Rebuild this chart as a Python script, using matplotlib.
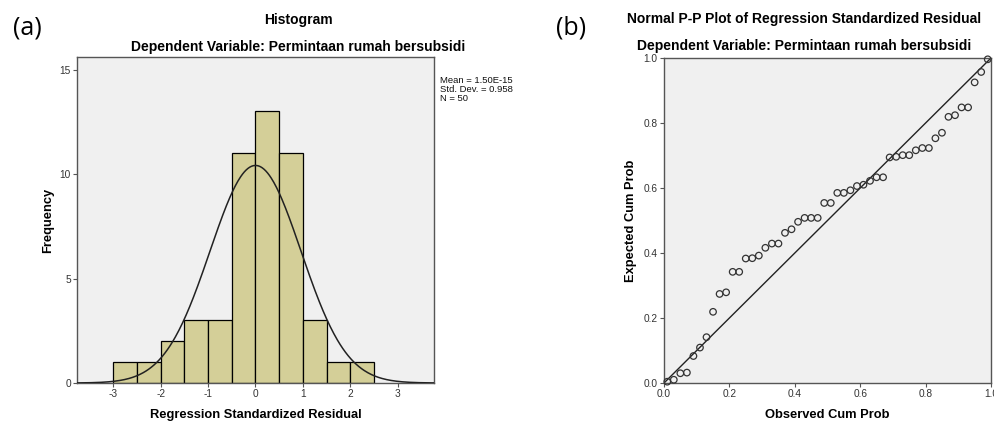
import numpy as np
import matplotlib
matplotlib.use("Agg")
import matplotlib.pyplot as plt

# ---- data ----
bin_edges = [-3.0, -2.5, -2.0, -1.5, -1.0, -0.5, 0.0, 0.5, 1.0, 1.5, 2.0, 2.5]
counts = [1, 1, 2, 3, 3, 11, 13, 11, 3, 1, 1]
mean_val = 1.50e-15
std_val = 0.958
n_val = 50

observed_cum = [0.01, 0.03, 0.05, 0.07, 0.09, 0.11, 0.13, 0.15, 0.17, 0.19,
                0.21, 0.23, 0.25, 0.27, 0.29, 0.31, 0.33, 0.35, 0.37, 0.39,
                0.41, 0.43, 0.45, 0.47, 0.49, 0.51, 0.53, 0.55, 0.57, 0.59,
                0.61, 0.63, 0.65, 0.67, 0.69, 0.71, 0.73, 0.75, 0.77, 0.79,
                0.81, 0.83, 0.85, 0.87, 0.89, 0.91, 0.93, 0.95, 0.97, 0.99]
expected_cum = [0.004, 0.010, 0.030, 0.032, 0.083, 0.109, 0.141, 0.219, 0.274, 0.279,
                0.342, 0.342, 0.383, 0.384, 0.392, 0.416, 0.429, 0.429, 0.462, 0.473,
                0.496, 0.508, 0.508, 0.508, 0.554, 0.554, 0.585, 0.585, 0.593, 0.606,
                0.610, 0.622, 0.633, 0.633, 0.694, 0.696, 0.701, 0.701, 0.716, 0.723,
                0.723, 0.753, 0.770, 0.819, 0.824, 0.848, 0.848, 0.925, 0.957, 0.996]

hist_xticks = [-3, -2, -1, 0, 1, 2, 3]
hist_yticks = [0, 5, 10, 15]
pp_ticks = [0.0, 0.2, 0.4, 0.6, 0.8, 1.0]

# ---- style ----
plt.rcParams['font.family'] = ['Liberation Sans', 'DejaVu Sans']
W, H = 995, 423
fig = plt.figure(figsize=(W / 100, H / 100), dpi=100)
fig.patch.set_facecolor('white')

bg = '#F0F0F0'
bar_col = '#D4CF98'
frame_col = '#555555'
tick_col = '#333333'
title_fs = 10
label_fs = 9.3

def px_axes(l, r, t, b):
    return fig.add_axes([l / W, (H - b) / H, (r - l) / W, (b - t) / H])

def style(ax):
    ax.set_facecolor(bg)
    for s in ax.spines.values():
        s.set_color(frame_col)
        s.set_linewidth(1.0)
    ax.tick_params(direction='out', length=3, width=0.8, color=frame_col,
                   labelsize=7.3, labelcolor=tick_col, pad=1.5)

# ---- histogram ----
ax1 = px_axes(77, 434, 57, 383)
style(ax1)
widths = np.diff(bin_edges)
ax1.bar(bin_edges[:-1], counts, width=widths, align='edge', color=bar_col,
        edgecolor='black', linewidth=0.9, zorder=2)
xs = np.linspace(-3.76, 3.76, 400)
bw = widths[0]
ys = n_val * bw / (std_val * np.sqrt(2 * np.pi)) * np.exp(-0.5 * ((xs - mean_val) / std_val) ** 2)
ax1.plot(xs, ys, color='#222222', linewidth=1.1, zorder=3)
ax1.set_xlim(-3.76, 3.76)
ax1.set_ylim(0, 15.6)
ax1.set_xticks(hist_xticks)
ax1.set_xticklabels([str(v) for v in hist_xticks])
ax1.set_yticks(hist_yticks)
ax1.set_xlabel('Regression Standardized Residual', fontsize=label_fs, fontweight='bold', labelpad=7)
ax1.set_ylabel('Frequency', fontsize=label_fs, fontweight='bold', labelpad=4)

fig.text(298 / W, 1 - 20 / H, 'Histogram', ha='center', va='center',
         fontsize=title_fs, fontweight='bold')
fig.text(298 / W, 1 - 47 / H, 'Dependent Variable: Permintaan rumah bersubsidi',
         ha='center', va='center', fontsize=title_fs, fontweight='bold')
legend_txt = 'Mean = 1.50E-15\nStd. Dev. = 0.958\nN = 50'
fig.text(440 / W, 1 - 76 / H, legend_txt, ha='left', va='top', fontsize=6.8,
         linespacing=1.0, color='#111111')

# ---- P-P plot ----
ax2 = px_axes(664, 991, 58, 383)
style(ax2)
ax2.plot([0, 1], [0, 1], color='#222222', linewidth=1.0, zorder=2)
ax2.scatter(observed_cum, expected_cum, s=22, facecolors='none',
            edgecolors='#333333', linewidths=0.9, zorder=3, clip_on=False)
ax2.set_xlim(0, 1)
ax2.set_ylim(0, 1)
ax2.set_xticks(pp_ticks)
ax2.set_yticks(pp_ticks)
ax2.set_xticklabels([f'{v:.1f}' for v in pp_ticks])
ax2.set_yticklabels([f'{v:.1f}' for v in pp_ticks])
ax2.set_xlabel('Observed Cum Prob', fontsize=label_fs, fontweight='bold', labelpad=7)
ax2.set_ylabel('Expected Cum Prob', fontsize=label_fs, fontweight='bold', labelpad=5)

fig.text(804 / W, 1 - 19 / H, 'Normal P-P Plot of Regression Standardized Residual',
         ha='center', va='center', fontsize=title_fs, fontweight='bold')
fig.text(804 / W, 1 - 46 / H, 'Dependent Variable: Permintaan rumah bersubsidi',
         ha='center', va='center', fontsize=title_fs, fontweight='bold')

# panel letters
fig.text(27 / W, 1 - 28 / H, '(a)', ha='center', va='center', fontsize=18,
         family=['Open Sans', 'DejaVu Sans'])
fig.text(571 / W, 1 - 28 / H, '(b)', ha='center', va='center', fontsize=18,
         family=['Open Sans', 'DejaVu Sans'])

fig.savefig('out.png', dpi=100)
